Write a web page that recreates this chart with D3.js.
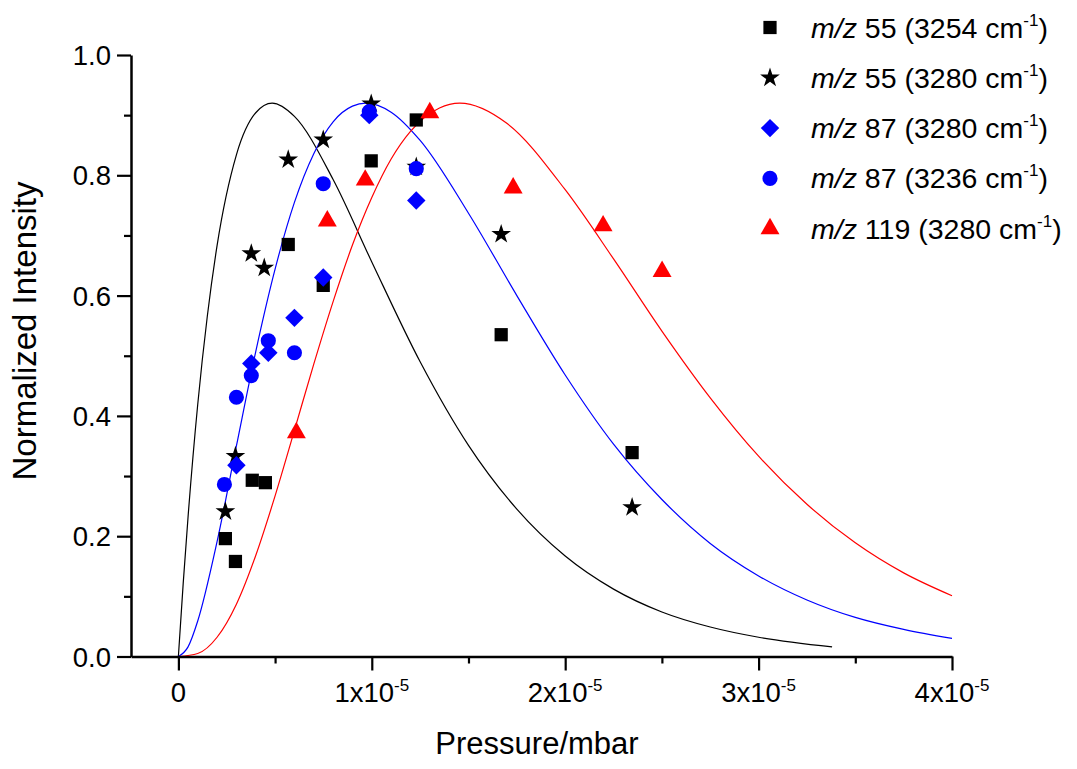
<!DOCTYPE html>
<html>
<head>
<meta charset="utf-8">
<script src="https://cdn.jsdelivr.net/npm/d3@7"></script>
<style>
  body { margin: 0; background: #fff; }
  text { font-family: "Liberation Sans", Arial, sans-serif; fill: #000; }
</style>
</head>
<body>
<svg id="chart" width="1077" height="769"></svg>
<script>
// pressures are in units of 1e-5 mbar

// m/z 55 (3254 cm-1), squares
const sqX = [0.243, 0.295, 0.382, 0.45, 0.568, 0.749, 0.997, 1.23, 1.669, 2.346]
const sqY = [0.196, 0.158, 0.293, 0.289, 0.685, 0.617, 0.824, 0.892, 0.535, 0.339]
// m/z 55 (3280 cm-1), stars
const starX = [0.243, 0.295, 0.377, 0.444, 0.568, 0.749, 0.997, 1.23, 1.669, 2.346]
const starY = [0.241, 0.333, 0.670, 0.646, 0.826, 0.859, 0.919, 0.814, 0.702, 0.248]
// m/z 87 (3236 cm-1), circles
const circX = [0.238, 0.30, 0.377, 0.465, 0.60, 0.749, 0.987, 1.23]
const circY = [0.286, 0.431, 0.467, 0.525, 0.505, 0.786, 0.906, 0.811]
// m/z 87 (3280 cm-1), diamonds
const diaX = [0.30, 0.377, 0.465, 0.60, 0.749, 0.987, 1.23]
const diaY = [0.318, 0.487, 0.505, 0.563, 0.630, 0.900, 0.758]
// m/z 119 (3280 cm-1), triangles
const triX = [0.61, 0.77, 0.966, 1.30, 1.731, 2.196, 2.501]
const triY = [0.372, 0.724, 0.792, 0.904, 0.779, 0.716, 0.640]

// fitted curves
const blackFitX = [0, 0.025, 0.05, 0.1, 0.15, 0.2, 0.3, 0.4, 0.485, 0.6, 0.8, 1.0, 1.25, 1.5, 1.75, 2.0, 2.25, 2.5, 2.75, 3.0, 3.38]
const blackFitY = [0, 0.122, 0.232, 0.419, 0.567, 0.683, 0.834, 0.904, 0.920, 0.898, 0.793, 0.656, 0.490, 0.351, 0.245, 0.167, 0.112, 0.074, 0.049, 0.032, 0.016]
const blueFitX = [0, 0.05, 0.1, 0.2, 0.3, 0.4, 0.5, 0.6, 0.7, 0.8, 0.9, 0.97, 1.1, 1.25, 1.5, 1.75, 2.0, 2.25, 2.5, 2.75, 3.0, 3.25, 3.5, 3.75, 4.0]
const blueFitY = [0, 0.016, 0.059, 0.191, 0.350, 0.507, 0.644, 0.755, 0.836, 0.889, 0.915, 0.920, 0.905, 0.858, 0.737, 0.600, 0.468, 0.353, 0.261, 0.188, 0.134, 0.094, 0.065, 0.045, 0.030]
const redFitX = [0, 0.1, 0.2, 0.3, 0.4, 0.5, 0.6, 0.7, 0.8, 0.9, 1.0, 1.1, 1.2, 1.35, 1.455, 1.7, 2.0, 2.25, 2.5, 2.75, 3.0, 3.25, 3.5, 3.75, 4.0]
const redFitY = [0, 0.005, 0.032, 0.087, 0.168, 0.267, 0.376, 0.486, 0.590, 0.684, 0.763, 0.827, 0.873, 0.912, 0.920, 0.886, 0.776, 0.661, 0.541, 0.430, 0.333, 0.253, 0.189, 0.139, 0.101]

// legend
const legendMass = ['55', '55', '87', '87', '119']
const legendWave = ['3254', '3280', '3280', '3236', '3280']

// axis ticks
const xMajor = [0, 1, 2, 3, 4]
const xMinor = [0.5, 1.5, 2.5, 3.5]
const yMajor = [0, 0.2, 0.4, 0.6, 0.8, 1.0]
const yMinor = [0.1, 0.3, 0.5, 0.7, 0.9]

let svg = d3.select('#chart')

let xScale = d3.scaleLinear().domain([-0.245, 4]).range([131, 952])
let yScale = d3.scaleLinear().domain([0, 1]).range([656.5, 55])

//fit curves
let line = d3.line()
    .x(d => xScale(d[0]))
    .y(d => yScale(d[1]))
    .curve(d3.curveMonotoneX)

let fits = [
    {xs: blackFitX, ys: blackFitY, color: '#000'},
    {xs: blueFitX, ys: blueFitY, color: '#0000ff'},
    {xs: redFitX, ys: redFitY, color: '#ff0000'}
]
fits.forEach(function (f) {
    svg.append('path')
        .attr('d', line(f.xs.map((x, i) => [x, f.ys[i]])))
        .attr('fill', 'none')
        .attr('stroke', f.color)
        .attr('stroke-width', 1.2)
})

//markers
let series = [
    {xs: sqX, ys: sqY, type: d3.symbolSquare, size: 175, rot: 0, color: '#000'},
    {xs: starX, ys: starY, type: d3.symbolStar, size: 120, rot: 0, color: '#000'},
    {xs: circX, ys: circY, type: d3.symbolCircle, size: 180, rot: 0, color: '#0000ff'},
    {xs: diaX, ys: diaY, type: d3.symbolSquare, size: 170, rot: 45, color: '#0000ff'},
    {xs: triX, ys: triY, type: d3.symbolTriangle, size: 155, rot: 0, color: '#ff0000'}
]
series.forEach(function (s) {
    let sym = d3.symbol().type(s.type).size(s.size)
    svg.append('g').selectAll('path')
        .data(s.xs.map((x, i) => [x, s.ys[i]]))
        .enter()
        .append('path')
        .attr('d', sym)
        .attr('transform', d => `translate(${xScale(d[0])},${yScale(d[1])}) rotate(${s.rot})`)
        .attr('fill', s.color)
})

//axes
let xAxis = d3.axisBottom(xScale).tickValues(xMajor).tickSize(14).tickSizeOuter(0).tickFormat('')
svg.append('g').attr('transform', `translate(0,${yScale(0)})`).call(xAxis)
svg.append('g').attr('transform', `translate(0,${yScale(0)})`)
    .call(d3.axisBottom(xScale).tickValues(xMinor).tickSize(7).tickSizeOuter(0).tickFormat(''))
    .select('.domain').remove()

let yAxis = d3.axisLeft(yScale).tickValues(yMajor).tickSize(14).tickSizeOuter(0).tickFormat('')
svg.append('g').attr('transform', `translate(${xScale(-0.245)},0)`).call(yAxis)
svg.append('g').attr('transform', `translate(${xScale(-0.245)},0)`)
    .call(d3.axisLeft(yScale).tickValues(yMinor).tickSize(7).tickSizeOuter(0).tickFormat(''))
    .select('.domain').remove()

svg.selectAll('.domain').attr('stroke', '#000').attr('stroke-width', 2.5)
svg.selectAll('.tick line').attr('stroke', '#000').attr('stroke-width', 2.2)

// tick labels
xMajor.forEach(function (v) {
    let t = svg.append('text')
        .attr('x', xScale(v))
        .attr('y', 702)
        .attr('text-anchor', 'middle')
        .attr('font-size', 27.5)
    if (v === 0) {
        t.text('0')
    } else {
        t.append('tspan').text(v + 'x10')
        t.append('tspan').attr('font-size', 17).attr('dy', -11).text('-5')
    }
})
yMajor.forEach(function (v) {
    svg.append('text')
        .attr('x', 111)
        .attr('y', yScale(v) + 10)
        .attr('text-anchor', 'end')
        .attr('font-size', 27.5)
        .text(v.toFixed(1))
})

// axis titles
svg.append('text')
    .attr('x', 537).attr('y', 754)
    .attr('text-anchor', 'middle')
    .attr('font-size', 31)
    .text('Pressure/mbar')
svg.append('text')
    .attr('transform', 'translate(36,331) rotate(-90)')
    .attr('text-anchor', 'middle')
    .attr('font-size', 33)
    .text('Normalized Intensity')

// legend
let legendOrder = [0, 1, 3, 2, 4]
legendMass.forEach(function (m, i) {
    let cy = 27.5 + i * 50.3
    let ser = series[legendOrder[i]]
    svg.append('path')
        .attr('d', d3.symbol().type(ser.type).size(ser.size)())
        .attr('transform', `translate(770,${cy}) rotate(${ser.rot})`)
        .attr('fill', ser.color)
    let t = svg.append('text')
        .attr('x', 811)
        .attr('y', cy + 10)
        .attr('font-size', 28.5)
    t.append('tspan').attr('font-style', 'italic').text('m/z')
    t.append('tspan').text(' ' + m + ' (' + legendWave[i] + ' cm')
    t.append('tspan').attr('font-size', 17).attr('dy', -12).text('-1')
    t.append('tspan').attr('dy', 12).text(')')
})
</script>
</body>
</html>
